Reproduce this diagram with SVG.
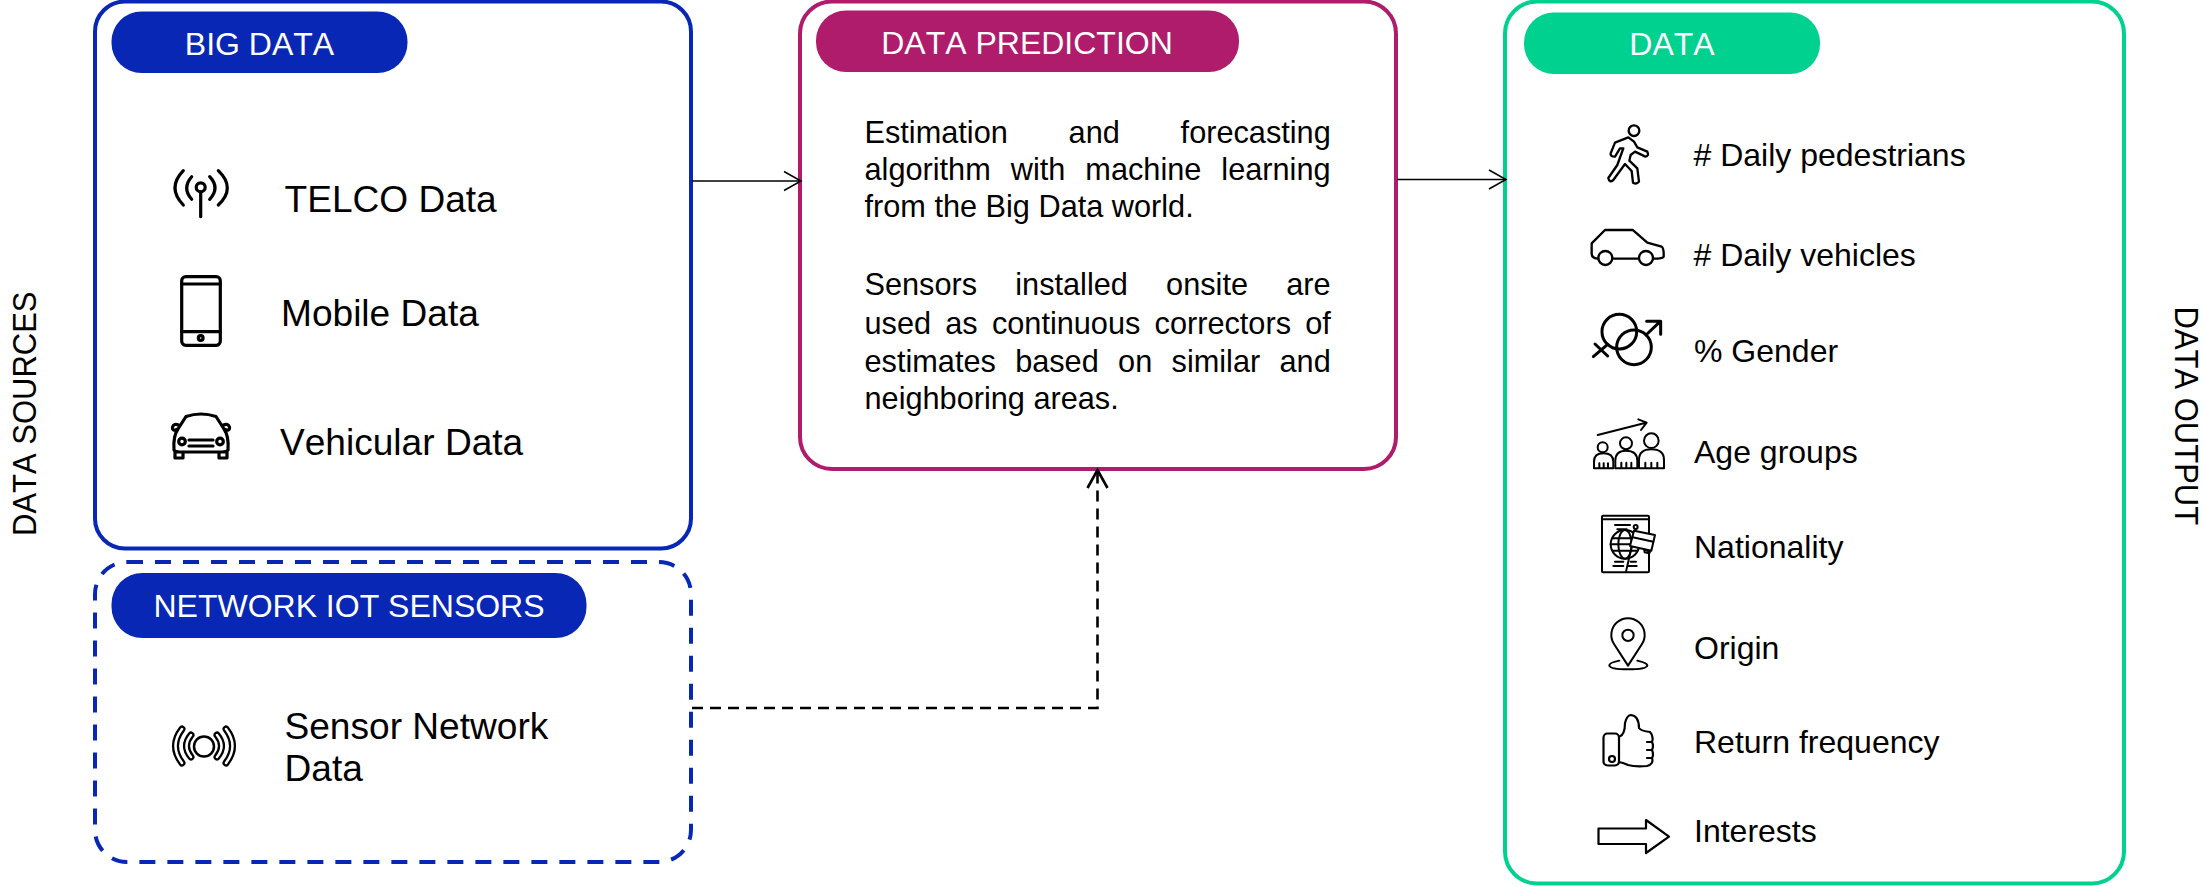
<svg xmlns="http://www.w3.org/2000/svg" width="2204" height="886" viewBox="0 0 2204 886">
<style>
text{font-family:"Liberation Sans",Arial,sans-serif;fill:#000;font-kerning:none}
.box{fill:#fff;stroke-width:4}
.pill{stroke:none}
.pt{font-size:32px;fill:#fff;text-anchor:middle}
.blue{stroke:#0827b5}.mag{stroke:#ae1c6b}.grn{stroke:#00d18f}
.src{font-size:37.100px}.out{font-size:32px}.body{font-size:30.700px}.side{font-size:31px}
.ic{fill:none;stroke:#000;stroke-linecap:round;stroke-linejoin:round}
.s3{stroke-width:3.200}
.z{stroke-width:7}
.conn{fill:none;stroke:#000}
</style>
<defs>
<marker id="open" markerUnits="userSpaceOnUse" markerWidth="20" markerHeight="24" viewBox="0 0 20 24" refX="18" refY="12" orient="auto"><path d="M1 2.5L18 12L1 21.500" fill="none" stroke="#000" stroke-width="1.500"/></marker>
<marker id="openb" markerUnits="userSpaceOnUse" markerWidth="22" markerHeight="26" viewBox="0 0 22 26" refX="19" refY="13" orient="auto"><path d="M1 3L19 13L1 23" fill="none" stroke="#000" stroke-width="2.600"/></marker>
</defs>
<rect width="2204" height="886" fill="#fff"/>
<text id="label-sources" class="side" transform="translate(36 536) rotate(-90) scale(1 1.100)">DATA SOURCES</text>
<text id="label-output" class="side" transform="translate(2174.500 306.500) rotate(90) scale(1 1.100)">DATA OUTPUT</text>
<g id="node-big-data">
<rect class="box blue" x="95" y="1.500" width="596" height="547" rx="30"/>
<rect class="pill" fill="#0827b5" x="111.500" y="11.500" width="296" height="61.500" rx="30"/>
<text class="pt" x="259.500" y="54.500">BIG DATA</text>
<g class="ic s3">
<circle cx="200.700" cy="187.300" r="4.500"/><path d="M200.700 192V216.700M191.700 176.700Q181.700 188 191.700 199.300M209.700 176.700Q220.300 188 209.700 199.300M183.300 170.700Q166.700 188 183.300 205M218.300 170.700Q236.300 188 218.300 205"/>
<rect x="181.700" y="276.700" width="38.600" height="68.600" rx="4"/><path d="M181.700 284H220.300M181.700 331.700H220.300"/><circle cx="200.700" cy="338" r="2.400"/>
<path d="M178 429L186 416.500Q201 411.500 216 416.500L224 429M178 429Q172 432 172.500 427Q174 423 178.500 425M224 429Q230 432 229.500 427Q228 423 223.500 425M178 429Q173 436 174 450Q175 452 180 452H222Q227 452 228 450Q229 436 224 429M175 452V458H183V452M219 452V458H227V452M189 440H213M189 446H213"/><circle cx="182" cy="441.500" r="3.300"/><circle cx="220" cy="441.500" r="3.300"/>
</g>
<text class="src" x="284.500" y="211.500">TELCO Data</text>
<text class="src" x="281" y="326">Mobile Data</text>
<text class="src" x="280" y="455">Vehicular Data</text>
</g>
<g id="node-network-iot">
<rect class="box blue" x="95" y="562" width="596" height="300" rx="32" stroke-dasharray="16 12"/>
<rect class="pill" fill="#0827b5" x="111.500" y="573" width="475" height="65" rx="31"/>
<text class="pt" x="349" y="617">NETWORK IOT SENSORS</text>
<g class="ic">
<path class="z" d="M182 729Q169 746 182 763M191 735Q182 746 191 757M226 729Q239 746 226 763M217 735Q226 746 217 757"/>
<path stroke="#fff" stroke-width="2.500" d="M182 729Q169 746 182 763M191 735Q182 746 191 757M226 729Q239 746 226 763M217 735Q226 746 217 757"/>
<circle cx="204" cy="746.500" r="10" stroke-width="2.500"/>
</g>
<text class="src" x="284.500" y="738.500">Sensor Network</text>
<text class="src" x="284.500" y="781">Data</text>
</g>
<g id="node-data-prediction">
<rect class="box mag" x="800" y="1.500" width="596" height="467.500" rx="32"/>
<rect class="pill" fill="#ae1c6b" x="816" y="10.500" width="423" height="61.500" rx="30"/>
<text class="pt" x="1027" y="54">DATA PREDICTION</text>
<text class="body" x="864.500" y="142.500" word-spacing="52.300">Estimation and forecasting</text>
<text class="body" x="864.500" y="180" word-spacing="11.500">algorithm with machine learning</text>
<text class="body" x="864.500" y="217">from the Big Data world.</text>
<text class="body" x="864.500" y="294.500" word-spacing="29.700">Sensors installed onsite are</text>
<text class="body" x="864.500" y="334" word-spacing="5.700">used as continuous correctors of</text>
<text class="body" x="864.500" y="371.500" word-spacing="10.800">estimates based on similar and</text>
<text class="body" x="864.500" y="409">neighboring areas.</text>
</g>
<g id="node-data">
<rect class="box grn" x="1505" y="1.500" width="619" height="882" rx="32"/>
<rect class="pill" fill="#00d18f" x="1524" y="12.500" width="296" height="61.500" rx="30"/>
<text class="pt" x="1672" y="55">DATA</text>
<g class="ic" transform="translate(1560 100) scale(.3333)" stroke-width="7">
<circle cx="222" cy="92" r="16"/>
<path d="M165 128L205 112L222 125L232 142L262 155Q268 168 256 170L225 155L212 165L208 182L232 205L237 245Q230 254 219 248L215 213L195 192L160 240Q148 250 145 234L172 195L190 145L180 145L165 170Q150 170 152 160Z"/>
<path d="M115 476Q95 476 95 460V430L135 390H218L262 428L305 440Q312 445 311 470Q308 476 280 476M235 476H158"/>
<circle cx="136" cy="474" r="21"/><circle cx="258" cy="474" r="21"/>
<g stroke-width="9"><circle cx="178" cy="695" r="52"/><circle cx="222" cy="742" r="52"/><path d="M143 733L100 770M105 732L143 768M258 705L301 664M260 664H302V703"/></g>
</g>
<g class="ic" transform="translate(1560 400) scale(.3333)" stroke-width="6">
<path d="M113 105L258 68M235 58L260 68L243 90"/>
<circle cx="128" cy="142" r="15"/><circle cx="198" cy="130" r="18"/><circle cx="274" cy="122" r="22"/>
<path d="M102 205V185Q102 160 130 160Q160 160 160 185V205ZM118 205V190M144 205V190M131 190V205"/>
<path d="M166 205V182Q166 152 198 152Q232 152 232 182V205ZM184 205V188M214 205V188M199 188V205"/>
<path d="M237 205V180Q237 148 274 148Q312 148 312 180V205ZM256 205V188M292 205V188M274 188V205"/>
<rect x="126" y="347" width="141" height="170" rx="3"/><path d="M126 358H267M165 375H210M172 388H200"/>
<circle cx="195" cy="433" r="43"/><ellipse cx="195" cy="433" rx="20" ry="43"/><path d="M152 433H238M158 415H232M158 452H232"/>
<path d="M228 384L198 515M165 485H190M212 485H228M160 498H190M205 498H230"/><circle cx="227" cy="381" r="6" fill="#fff"/>
<path fill="#fff" d="M222 392L285 405L274 452L210 438Z"/><path d="M218 412L280 425M252 448L270 455L268 460L254 457Z"/>
<path d="M204 797L162 732A50 50 0 1 1 246 732Z"/><circle cx="204" cy="706" r="17"/>
<path d="M178 782Q148 788 148 796Q150 808 204 808Q260 808 262 796Q260 788 232 782"/>
</g>
<g class="ic" stroke-width="2.200">
<rect x="1603.500" y="733.500" width="15.500" height="32" rx="4"/><circle cx="1612" cy="759" r="3"/>
<path d="M1619 737Q1625 735 1625 723Q1627 715 1631 715Q1639 716 1639 728Q1641 731 1650 732Q1654 736 1652 742H1647M1652 742Q1654 746 1652 750H1647M1652 750Q1654 755 1652 758H1647M1652 758Q1654 764 1647 766Q1635 767 1628 765Q1624 763 1619 762"/>
<path d="M1598.500 828.500H1646V820L1669 836.700L1646 853V844H1598.500Z"/>
</g>
<text class="out" x="1693.500" y="166"># Daily pedestrians</text>
<text class="out" x="1693.500" y="266"># Daily vehicles</text>
<text class="out" x="1694" y="362">% Gender</text>
<text class="out" x="1694" y="462.500">Age groups</text>
<text class="out" x="1694" y="558">Nationality</text>
<text class="out" x="1694" y="658.500">Origin</text>
<text class="out" x="1694" y="753">Return frequency</text>
<text class="out" x="1694" y="842">Interests</text>
</g>
<g id="connectors">
<path class="conn" stroke-width="1.500" marker-end="url(#open)" d="M692 181H801"/>
<path class="conn" stroke-width="1.500" marker-end="url(#open)" d="M1397 179.500H1506"/>
<path class="conn" stroke-width="2.600" stroke-dasharray="11 7" marker-end="url(#openb)" d="M692 708H1097.500V470"/>
</g>
</svg>
